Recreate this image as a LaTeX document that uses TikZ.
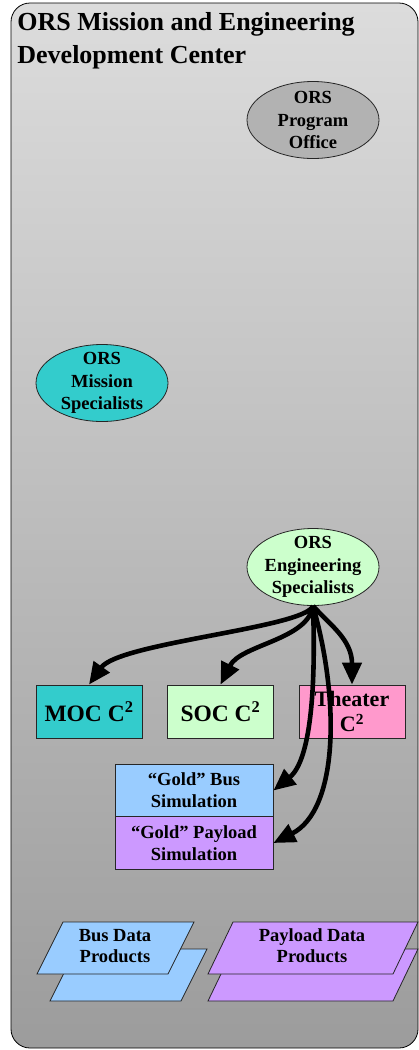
\documentclass[tikz,border=0pt]{standalone}
\usepackage{fontspec}
\setmainfont{Liberation Serif}
\usetikzlibrary{shapes.geometric,arrows.meta}
\definecolor{panetop}{HTML}{DCDCDC}
\definecolor{panebottom}{HTML}{9C9C9C}
\definecolor{officegray}{HTML}{B2B2B2}
\definecolor{mocteal}{HTML}{33CCCC}
\definecolor{socgreen}{HTML}{CCFFCC}
\definecolor{theaterpink}{HTML}{FF99CC}
\definecolor{busblue}{HTML}{99CCFF}
\definecolor{payloadlilac}{HTML}{CC99FF}

\begin{document}
\begin{tikzpicture}[x=1pt,y=-1pt,line width=.8pt,
  oval/.style={ellipse,draw=black!85,minimum width=132pt,minimum height=77pt,inner xsep=-4pt,inner ysep=-8pt,align=center,font=\fontsize{18.5}{22.5}\selectfont\bfseries},
  box/.style={rectangle,draw=black!85,inner sep=0pt,align=center},
  feed/.style={line width=4.6pt,-{Triangle[length=22pt,width=19pt]}}]
\useasboundingbox (0,0) rectangle (419,1050);
\shade[draw=black,top color=panetop,bottom color=panebottom,rounded corners=19pt] (11,3) rectangle (418,1048);
\node[anchor=north west,inner sep=0pt,align=left,font=\fontsize{26}{33}\selectfont\bfseries] (title) at (17,12) {ORS Mission and Engineering\\Development Center};
\node[oval,fill=officegray] (office) at (313,120) {ORS\\Program\\Office};
\node[oval,fill=mocteal] (mission) at (102,383) {ORS\\Mission\\Specialists};
\node[oval,fill=socgreen] (eng) at (313,567) {ORS\\Engineering\\Specialists};
\node[box,fill=mocteal,minimum width=106pt,minimum height=53pt,font=\fontsize{23.5}{26}\selectfont\bfseries] (moc) at (89,711.5) {MOC C\textsuperscript{2}};
\node[box,fill=socgreen,minimum width=106pt,minimum height=53pt,font=\fontsize{23.5}{26}\selectfont\bfseries] (soc) at (220.5,711.5) {SOC C\textsuperscript{2}};
\node[box,fill=theaterpink,minimum width=106pt,minimum height=53pt,font=\fontsize{22}{25}\selectfont\bfseries] (theater) at (352,711.5) {Theater\\C\textsuperscript{2}};
\node[box,fill=busblue,minimum width=158pt,minimum height=53pt,font=\fontsize{18.5}{22}\selectfont\bfseries] (bus) at (194,790.5) {“Gold” Bus\\Simulation};
\node[box,fill=payloadlilac,minimum width=158pt,minimum height=53pt,font=\fontsize{18.5}{22}\selectfont\bfseries] (payload) at (194,843) {“Gold” Payload\\Simulation};
\filldraw[fill=busblue,draw=black!85] (76,949)--(207,949)--(181,1001)--(50,1001)--cycle;
\filldraw[fill=busblue,draw=black!85] (63,922)--(194,922)--(168,974)--(37,974)--cycle;
\filldraw[fill=payloadlilac,draw=black!85] (233,949)--(418,949)--(393,1001)--(208,1001)--cycle;
\filldraw[fill=payloadlilac,draw=black!85] (233,922)--(418,922)--(393,974)--(208,974)--cycle;
\node[align=center,font=\fontsize{18.5}{21}\selectfont\bfseries] (busdata) at (115,946) {Bus Data\\Products};
\node[align=center,font=\fontsize{18.5}{21}\selectfont\bfseries] (payloaddata) at (312,946) {Payload Data\\Products};
\draw[feed] (eng.south) .. controls +(-8,22) and +(30,-42) .. (moc.north);
\draw[feed] (eng.south) .. controls +(-5,34) and +(20,-40) .. (soc.north);
\draw[feed] (eng.south) .. controls +(17,19) and +(0,-45) .. (theater.north);
\draw[feed] (eng.south) .. controls +(3,84) and +(37,-30) .. (bus.east);
\draw[feed] (eng.south) .. controls +(27,94) and +(65,-33) .. (payload.east);
\end{tikzpicture}
\end{document}
